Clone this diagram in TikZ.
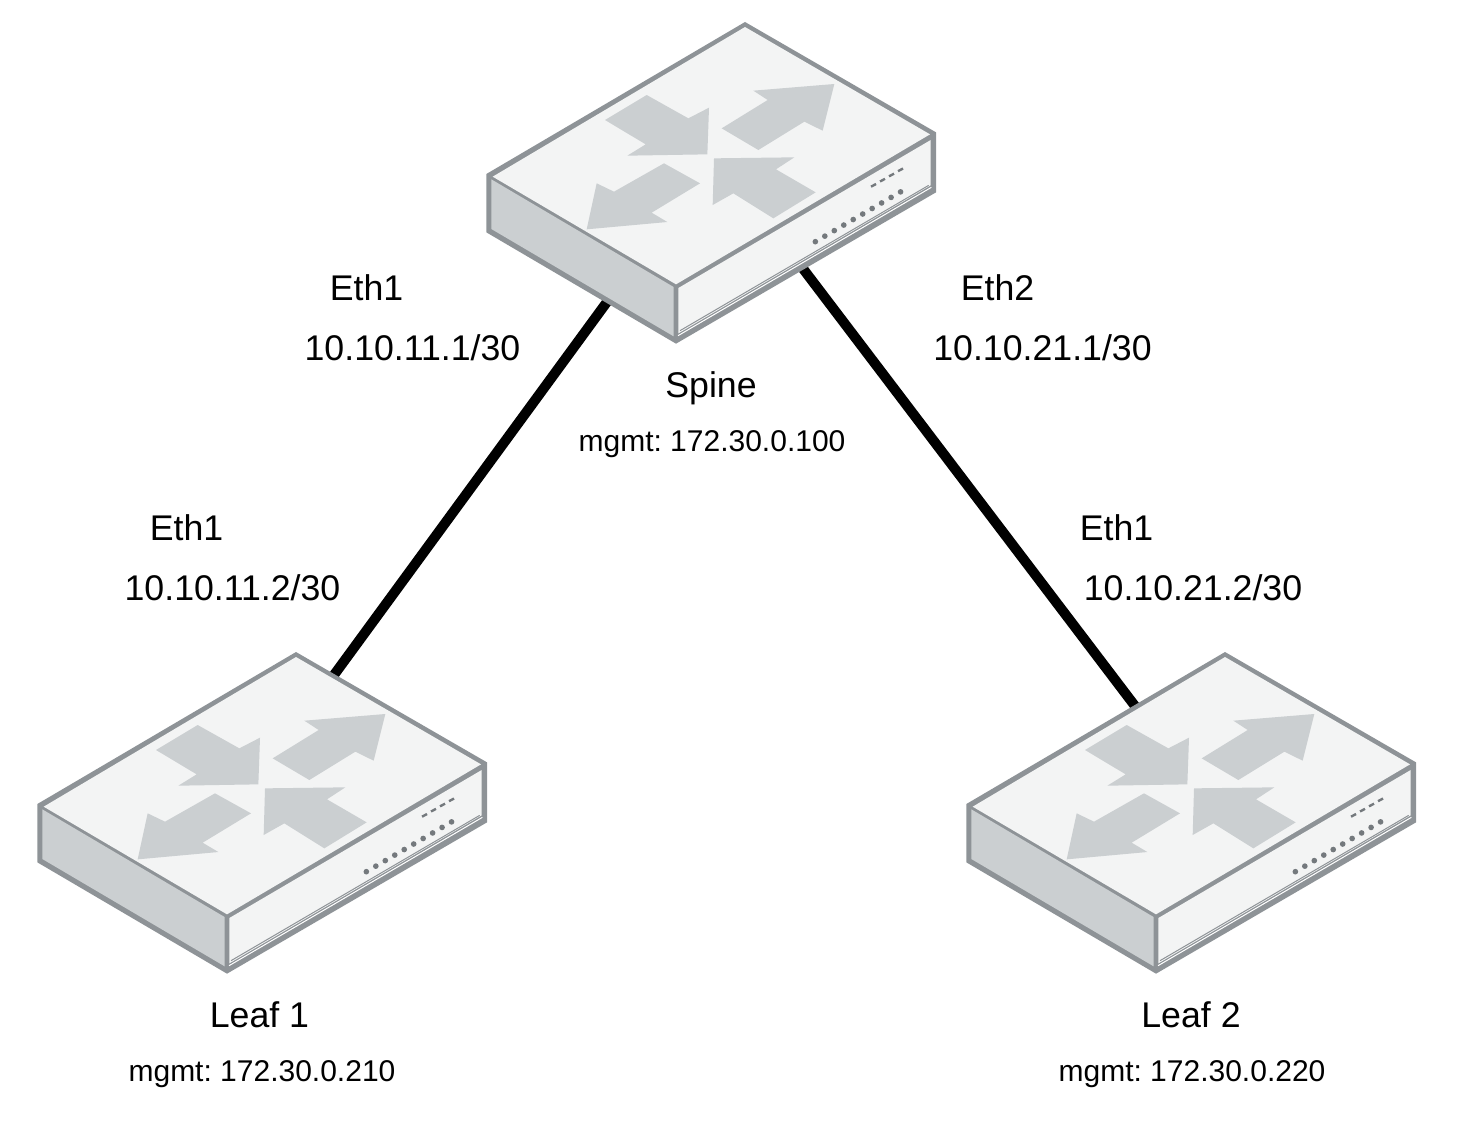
\documentclass[tikz,border=0pt]{standalone}
\usepackage{fontspec}
\setmainfont{Liberation Sans}
\definecolor{topface}{HTML}{F3F4F4}
\definecolor{sideface}{HTML}{CBCFD1}
\definecolor{edgegray}{HTML}{8E9397}
\definecolor{ledgray}{HTML}{74797D}
\tikzset{
  biglabel/.style={anchor=base,inner sep=0pt,font=\fontsize{17.85pt}{20pt}\selectfont},
  smalllabel/.style={anchor=base,inner sep=0pt,font=\fontsize{15pt}{18pt}\selectfont},
  link/.style={draw=black,line width=5pt},
  arrowshape/.style={fill=sideface,draw=none},
  pics/switchbox/.style={code={
    \begin{scope}[x=0.16667pt,y=-0.16667pt,line join=miter]
      % body silhouette
      \fill[edgegray] (825,36) -- (1398,367) -- (1398,547) -- (618,1001) -- (49,667) -- (49,492) -- cycle;
      % top face
      \fill[topface] (825,51) -- (1380,373) -- (618,823) -- (68,500) -- cycle;
      % left face
      \fill[sideface] (64,508) -- (611,831) -- (611,979) -- (64,657) -- cycle;
      % front face
      \fill[topface] (625,834) -- (1382,390) -- (1382,526) -- (625,970) -- cycle;
      \draw[edgegray,line width=0.5pt] (630,962) -- (1376,526);
      \draw[white,line width=0.5pt] (624,977) -- (1384,532);
      % arrows
      \fill[arrowshape] (405,330) -- (530,255) -- (655,325) -- (717,293) -- (712,433) -- (472,437) -- (527,403) -- cycle;
      \fill[arrowshape] (755,355) -- (893,270) -- (850,242) -- (1093,222) -- (1058,362) -- (1003,335) -- (865,420) -- cycle;
      \fill[arrowshape] (690,520) -- (582,460) -- (432,545) -- (380,520) -- (350,658) -- (592,636) -- (545,608) -- cycle;
      \fill[arrowshape] (1037,547) -- (918,478) -- (973,442) -- (732,445) -- (728,585) -- (790,550) -- (910,625) -- cycle;
      % status bars
      \foreach \i in {0,1,2,3}
        \draw[ledgray,line width=1.2pt] ({1203+\i*27},{530-\i*15.5}) -- ({1218+\i*27},{522-\i*15.5});
      % ports
      \foreach \i in {0,...,9}
        \fill[ledgray] ({1036+\i*28.4},{695-\i*16.6}) circle (8.5);
    \end{scope}
  }}
}
\begin{document}
\frenchspacing
\begin{tikzpicture}[x=0.5pt,y=-0.5pt]
  \useasboundingbox (0,0) rectangle (1460,1129);
  \coordinate (spinewest) at (624.5,278);
  \coordinate (spineeast) at (785,245);
  \coordinate (leafonetop) at (312,705);
  \coordinate (leaftwotop) at (1157,735);
  \draw[link] (spinewest) -- (leafonetop);
  \draw[link] (spineeast) -- (leaftwotop);
  \pic (spinebox) at (470,10) {switchbox};
  \pic (leafonebox) at (21,640) {switchbox};
  \pic (leaftwobox) at (950,640) {switchbox};
  \node[biglabel] (ethA) at (366.5,300) {Eth1};
  \node[biglabel] (ipA) at (412.5,360) {10.10.11.1/30};
  \node[biglabel] (spinename) at (711,397) {Spine};
  \node[smalllabel] (spinemgmt) at (712,451) {mgmt: 172.30.0.100};
  \node[biglabel] (ethB) at (997.5,300) {Eth2};
  \node[biglabel] (ipB) at (1042.5,360) {10.10.21.1/30};
  \node[biglabel] (ethC) at (186.5,540) {Eth1};
  \node[biglabel] (ipC) at (232.5,600) {10.10.11.2/30};
  \node[biglabel] (ethD) at (1116.5,540) {Eth1};
  \node[biglabel] (ipD) at (1193,600) {10.10.21.2/30};
  \node[biglabel] (leafonename) at (259.5,1027) {Leaf 1};
  \node[smalllabel] (leafonemgmt) at (262,1081) {mgmt: 172.30.0.210};
  \node[biglabel] (leaftwoname) at (1191,1027) {Leaf 2};
  \node[smalllabel] (leaftwomgmt) at (1192,1081) {mgmt: 172.30.0.220};
\end{tikzpicture}
\end{document}
